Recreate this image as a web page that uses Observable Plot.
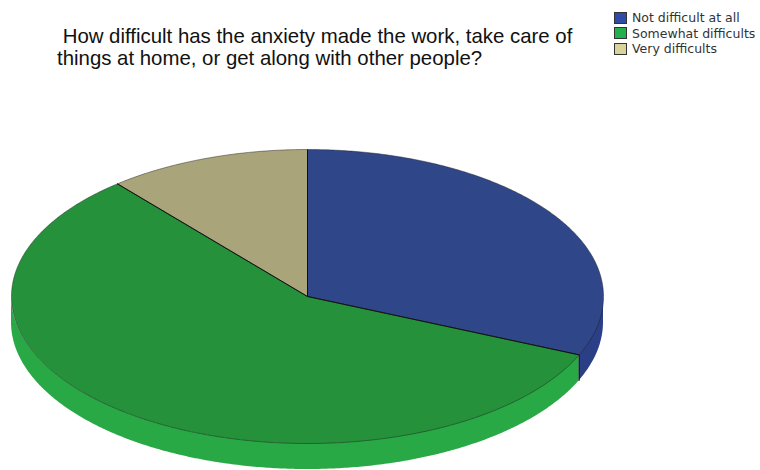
<!DOCTYPE html>
<html><head><meta charset="utf-8">
<script src="https://cdn.jsdelivr.net/npm/d3@7"></script>
<script src="https://cdn.jsdelivr.net/npm/@observablehq/plot@0.6"></script>
<style>
body{margin:0;background:#fff;font-family:"Liberation Sans",Arial,sans-serif;}
#wrap{position:relative;width:760px;height:470px;overflow:hidden;}
#chart{position:absolute;left:0;top:0;}
#title{position:absolute;left:57px;top:25px;font-size:20.4px;line-height:22px;color:#111;white-space:pre;}
#legend{position:absolute;left:614px;top:10px;font-family:"DejaVu Sans",sans-serif;font-size:12.5px;color:#333;}
.row{display:flex;align-items:center;height:15.5px;}
.sw{width:11px;height:10px;border:1px solid #333;margin-right:5px;box-sizing:content-box;}
</style></head><body>
<div id="wrap"><div id="chart"></div><div id="title"></div><div id="legend"></div></div>
<script>
const categories = ["Not difficult at all", "Somewhat difficults", "Very difficults"];
const percents = [31.5, 57.4, 11.1];
const titleLines = [" How difficult has the anxiety made the work, take care of", "things at home, or get along with other people?"];
const topColors = ["#2F4789", "#25923B", "#A9A479"];
const sideColors = ["#2A3F85", "#29A846", "#989368"];
const legendColors = ["#2F4BA6", "#24B04C", "#D8D39A"];

const DEPTH = 26 / 147;
const total = d3.sum(percents);
let acc = 0;
const slices = categories.map((c, i) => {
  const a0 = acc / total * 2 * Math.PI;
  acc += percents[i];
  const a1 = acc / total * 2 * Math.PI;
  return {c, i, a0, a1};
});
const STEP = Math.PI / 360;
function arcPts(a0, a1) {
  const n = Math.max(2, Math.ceil((a1 - a0) / STEP));
  return d3.range(n + 1).map(k => a0 + (a1 - a0) * k / n);
}
const topData = slices.flatMap(s => [
  {c: s.c, x: 0, y: 0},
  ...arcPts(s.a0, s.a1).map(a => ({c: s.c, x: Math.sin(a), y: -Math.cos(a)})),
  {c: s.c, x: 0, y: 0}
]);
const radii = slices.map(s => ({x: Math.sin(s.a0), y: -Math.cos(s.a0)}));
const sideMarks = slices.map(s => {
  const lo = Math.max(s.a0, Math.PI / 2), hi = Math.min(s.a1, 3 * Math.PI / 2);
  if (hi <= lo) return null;
  const pts = arcPts(lo, hi).map(a => ({x: Math.sin(a), y1: -Math.cos(a), y2: -Math.cos(a) + DEPTH}));
  return Plot.area(pts, {x1: "x", y1: "y1", y2: "y2", fill: sideColors[s.i]});
}).filter(Boolean);
const edges = slices.map(s => s.a0).filter(a => a > Math.PI / 2 && a < 3 * Math.PI / 2)
  .map(a => ({x: Math.sin(a), y1: -Math.cos(a), y2: -Math.cos(a) + DEPTH}));

const chart = Plot.plot({
  width: 760, height: 470, margin: 0,
  x: {domain: [-1, 1], range: [11, 603], axis: null},
  y: {domain: [-1, 1], range: [149, 443], axis: null},
  color: {domain: categories, range: topColors},
  marks: [
    ...sideMarks,
    Plot.link(edges, {x1: "x", x2: "x", y1: "y1", y2: "y2", stroke: "#111", strokeWidth: 1}),
    Plot.line(topData, {x: "x", y: "y", z: "c", fill: "c", stroke: "#1a1a1a", strokeOpacity: 0.45, strokeWidth: 1, strokeLinejoin: "round"}),
    Plot.link(radii, {x1: 0, y1: 0, x2: "x", y2: "y", stroke: "#111", strokeWidth: 1})
  ]
});
document.getElementById("chart").appendChild(chart);

const t = document.getElementById("title");
titleLines.forEach(l => { const d = document.createElement("div"); d.textContent = l; t.appendChild(d); });
const lg = document.getElementById("legend");
categories.forEach((c, i) => {
  const r = document.createElement("div"); r.className = "row";
  const s = document.createElement("div"); s.className = "sw"; s.style.background = legendColors[i];
  const tx = document.createElement("span"); tx.textContent = c;
  r.appendChild(s); r.appendChild(tx); lg.appendChild(r);
});
</script>
</body></html>
